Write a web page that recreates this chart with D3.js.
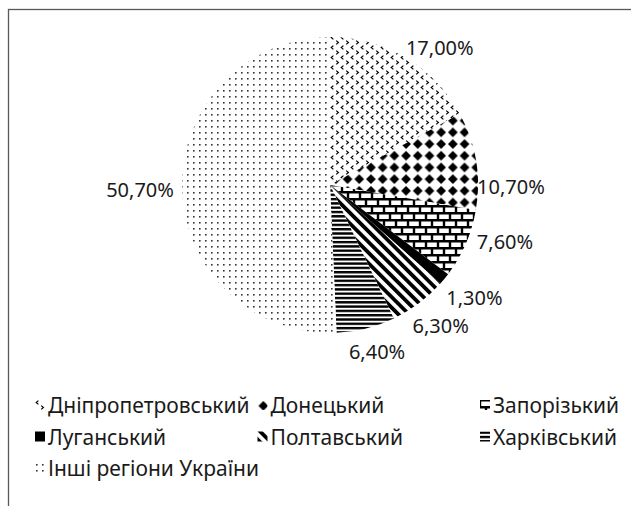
<!DOCTYPE html>
<html>
<head>
<meta charset="utf-8">
<script src="https://cdn.jsdelivr.net/npm/d3@7"></script>
<style>
  html, body { margin: 0; padding: 0; background: #fff; }
  svg { display: block; }
  text { font-family: "Noto Sans", sans-serif; fill: #1a1a1a; }
</style>
</head>
<body>
<div id="chart"></div>
<script>
// regions and their share of the total, percent
const regions = ["Дніпропетровський", "Донецький", "Запорізький", "Луганський",
                 "Полтавський", "Харківський", "Інші регіони України"];
const shares = [17.0, 10.7, 7.6, 1.3, 6.3, 6.4, 50.7];
const shareLabels = ["17,00%", "10,70%", "7,60%", "1,30%", "6,30%", "6,40%", "50,70%"];
const patternIds = ["pDnipro", "pDonetsk", "pZapor", "pLuhansk", "pPoltava", "pKharkiv", "pOther"];

const width = 631, height = 506;
const cx = 330, cy = 185, radius = 148;

const svg = d3.select("#chart").append("svg")
    .attr("width", width)
    .attr("height", height);

// chart frame (runs off the right and bottom edge)
svg.append("rect")
    .attr("x", 8.5).attr("y", 9.5)
    .attr("width", 640).attr("height", 520)
    .attr("fill", "#fff")
    .attr("stroke", "#595959")
    .attr("stroke-width", 1.3);

// fill patterns, black on white
const defs = svg.append("defs");
function pattern(id, w, h, transform) {
    const p = defs.append("pattern")
        .attr("id", id)
        .attr("patternUnits", "userSpaceOnUse")
        .attr("width", w).attr("height", h);
    if (transform) p.attr("patternTransform", transform);
    p.append("rect").attr("width", w).attr("height", h).attr("fill", "#fff");
    return p;
}

// small chevrons
let p = pattern("pDnipro", 10, 10);
p.append("path").attr("d", "M3.4,0.6 L1.2,2.5 L3.4,4.4").attr("fill", "none").attr("stroke", "#000").attr("stroke-width", 1.2);
p.append("path").attr("d", "M6.2,5.6 L8.4,7.5 L6.2,9.4").attr("fill", "none").attr("stroke", "#000").attr("stroke-width", 1.2);

// solid diamonds
p = pattern("pDonetsk", 11.7, 11.7);
p.append("path").attr("d", "M5.85,1 L10.7,5.85 L5.85,10.7 L1,5.85Z").attr("fill", "#000");

// bricks
p = pattern("pZapor", 12, 14);
p.select("rect").attr("fill", "#000");
p.append("rect").attr("x", 1.2).attr("y", 1.5).attr("width", 9.6).attr("height", 4.5).attr("fill", "#fff");
p.append("rect").attr("x", -4.8).attr("y", 8.5).attr("width", 9.6).attr("height", 4.5).attr("fill", "#fff");
p.append("rect").attr("x", 7.2).attr("y", 8.5).attr("width", 9.6).attr("height", 4.5).attr("fill", "#fff");

// nearly solid
p = pattern("pLuhansk", 6, 6);
p.select("rect").attr("fill", "#000");

// wide downward diagonal
p = pattern("pPoltava", 7.5, 7.5, "rotate(-45)");
p.append("rect").attr("width", 3.8).attr("height", 7.5).attr("fill", "#000");

// horizontal lines
p = pattern("pKharkiv", 6, 4.3);
p.append("rect").attr("width", 6).attr("height", 2.4).attr("fill", "#000");

// sparse dots
p = pattern("pOther", 6, 6);
p.append("rect").attr("x", 1).attr("y", 1).attr("width", 1.6).attr("height", 1.6).attr("fill", "#333");

// pie
const pie = d3.pie().sort(null).value(d => d);
const arcs = pie(shares);
const arc = d3.arc().innerRadius(0).outerRadius(radius);

const g = svg.append("g").attr("transform", `translate(${cx},${cy})`);
g.selectAll("path.slice")
    .data(arcs)
    .enter().append("path")
    .attr("class", "slice")
    .attr("d", arc)
    .attr("fill", (d, i) => `url(#${patternIds[i]})`);

// data labels: best-fit placement, angle shift (deg) and distance from centre
const labelShift = [8, 10.1, -5.4, -1.5, -1.3, -1.7, 0];
const labelDist = [176, 181, 184, 183, 179, 173.5, 190];
g.selectAll("text.lbl")
    .data(arcs)
    .enter().append("text")
    .attr("class", "lbl")
    .attr("transform", (d, i) => {
        const a = (d.startAngle + d.endAngle) / 2 + labelShift[i] * Math.PI / 180;
        const [x, y] = d3.pointRadial(a, labelDist[i]);
        return `translate(${x},${y})`;
    })
    .attr("text-anchor", "middle")
    .attr("dominant-baseline", "central")
    .style("font-size", "20px")
    .text((d, i) => shareLabels[i]);

// legend, three columns
const colX = d3.scalePoint().domain([0, 1, 2]).range([35, 480]);
const rowY = d3.scalePoint().domain([0, 1, 2]).range([405, 468]);
const legend = svg.selectAll("g.legend")
    .data(regions)
    .enter().append("g")
    .attr("class", "legend")
    .attr("transform", (d, i) => `translate(${colX(i % 3)},${rowY(Math.floor(i / 3))})`);
legend.append("g")
    .attr("transform", "translate(0,-5)")
    .append("rect")
    .attr("width", 10).attr("height", 10)
    .attr("fill", (d, i) => `url(#${patternIds[i]})`);
legend.append("text")
    .attr("x", 13)
    .attr("dominant-baseline", "central")
    .style("font-size", "21px")
    .text(d => d);
</script>
</body>
</html>
